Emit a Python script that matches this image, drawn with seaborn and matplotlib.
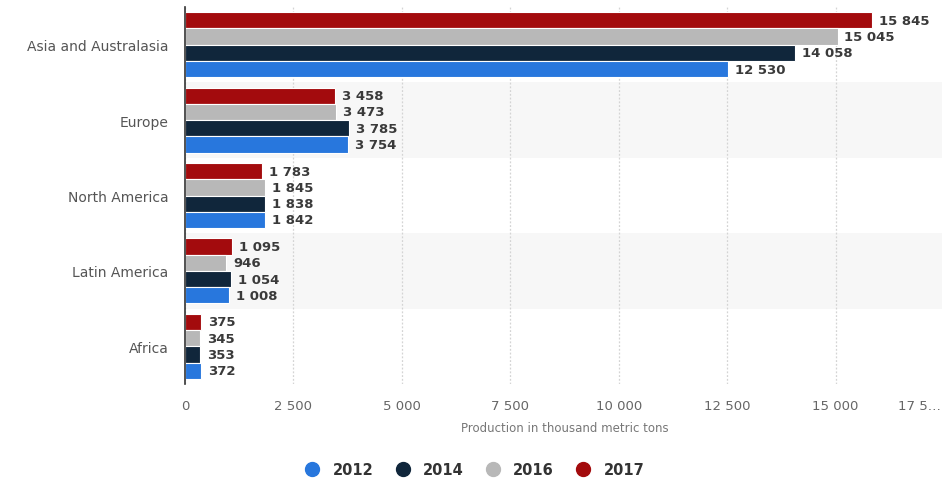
import numpy as np
import pandas as pd
import matplotlib
matplotlib.use("Agg")
import matplotlib.pyplot as plt
from matplotlib.lines import Line2D
import seaborn as sns

regions = ["Asia and Australasia", "Europe", "North America", "Latin America", "Africa"]
years = ["2012", "2014", "2016", "2017"]
prod_2012 = [12530, 3754, 1842, 1008, 372]
prod_2014 = [14058, 3785, 1838, 1054, 353]
prod_2016 = [15045, 3473, 1845, 946, 345]
prod_2017 = [15845, 3458, 1783, 1095, 375]
x_ticks = [0, 2500, 5000, 7500, 10000, 12500, 15000, 17500]
x_tick_labels = ["0", "2 500", "5 000", "7 500", "10 000", "12 500", "15 000", "17 5…"]

colors = {"2012": "#2877dd", "2014": "#10263b", "2016": "#b8b8b8", "2017": "#a30b0d"}

series = {"2012": prod_2012, "2014": prod_2014, "2016": prod_2016, "2017": prod_2017}
df = pd.DataFrame(
    [(r, y, series[y][i]) for y in years for i, r in enumerate(regions)],
    columns=["region", "year", "value"],
)

sns.set_theme(style="white")
plt.rcParams["font.family"] = ["DejaVu Sans"]

fig = plt.figure(figsize=(9.42, 4.81), dpi=100)
ax = fig.add_axes([185 / 942, 1 - 385 / 481, (944 - 185) / 942, 377 / 481])

draw_order = ["2017", "2016", "2014", "2012"]
sns.barplot(
    data=df, y="region", x="value", hue="year", hue_order=draw_order,
    order=regions, palette=colors, saturation=1, orient="h", width=0.86,
    edgecolor="white", linewidth=0.8, legend=False, ax=ax, zorder=3,
)

# alternating band shading
for i in (1, 3):
    ax.axhspan(i - 0.5, i + 0.5, color="#f7f7f7", zorder=0, lw=0)

ax.set_xlim(0, 17500)
ax.set_ylim(len(regions) - 0.5, -0.5)
ax.set_xticks(x_ticks)
# the last tick sits on the figure edge, so its label is drawn right-aligned separately
ax.set_xticklabels(x_tick_labels[:-1] + [""], fontsize=9.5, color="#666666")
ax.annotate(x_tick_labels[-1], xy=(x_ticks[-1], 0), xycoords=("data", "axes fraction"),
            xytext=(-2, -11), textcoords="offset points", ha="right", va="top",
            fontsize=9.5, color="#666666", annotation_clip=False)
ax.tick_params(axis="x", length=0, pad=11)
ax.tick_params(axis="y", length=0, pad=12)
for lab in ax.get_yticklabels():
    lab.set_fontsize(10)
    lab.set_color("#555555")
ax.set_ylabel("")
ax.set_xlabel("Production in thousand metric tons", fontsize=8.5, color="#777777", labelpad=6)

ax.grid(axis="x", color="#d4d4d4", linestyle=(0, (1.5, 1.5)), linewidth=0.9, zorder=1)
ax.set_axisbelow(True)
for s in ("top", "right", "bottom"):
    ax.spines[s].set_visible(False)
ax.spines["left"].set_color("#333333")
ax.spines["left"].set_linewidth(1.2)
ax.spines["left"].set_zorder(5)

# value labels
for cont, yr in zip(ax.containers, draw_order):
    labels = [f"{int(v):,}".replace(",", " ") for v in cont.datavalues]
    ax.bar_label(cont, labels=labels, padding=5, fontsize=9.5,
                 fontweight="bold", color="#3a3a3a")

handles = [Line2D([0], [0], marker="o", linestyle="", markersize=10,
                  markerfacecolor=colors[y], markeredgecolor=colors[y]) for y in years]
fig.legend(handles, years, loc="center", bbox_to_anchor=(0.5, 1 - 471 / 481),
           ncol=4, frameon=False, handletextpad=0.4, columnspacing=1.0,
           prop={"weight": "bold", "size": 10.5}, labelcolor="#333333")

fig.savefig("out.png", dpi=100)
